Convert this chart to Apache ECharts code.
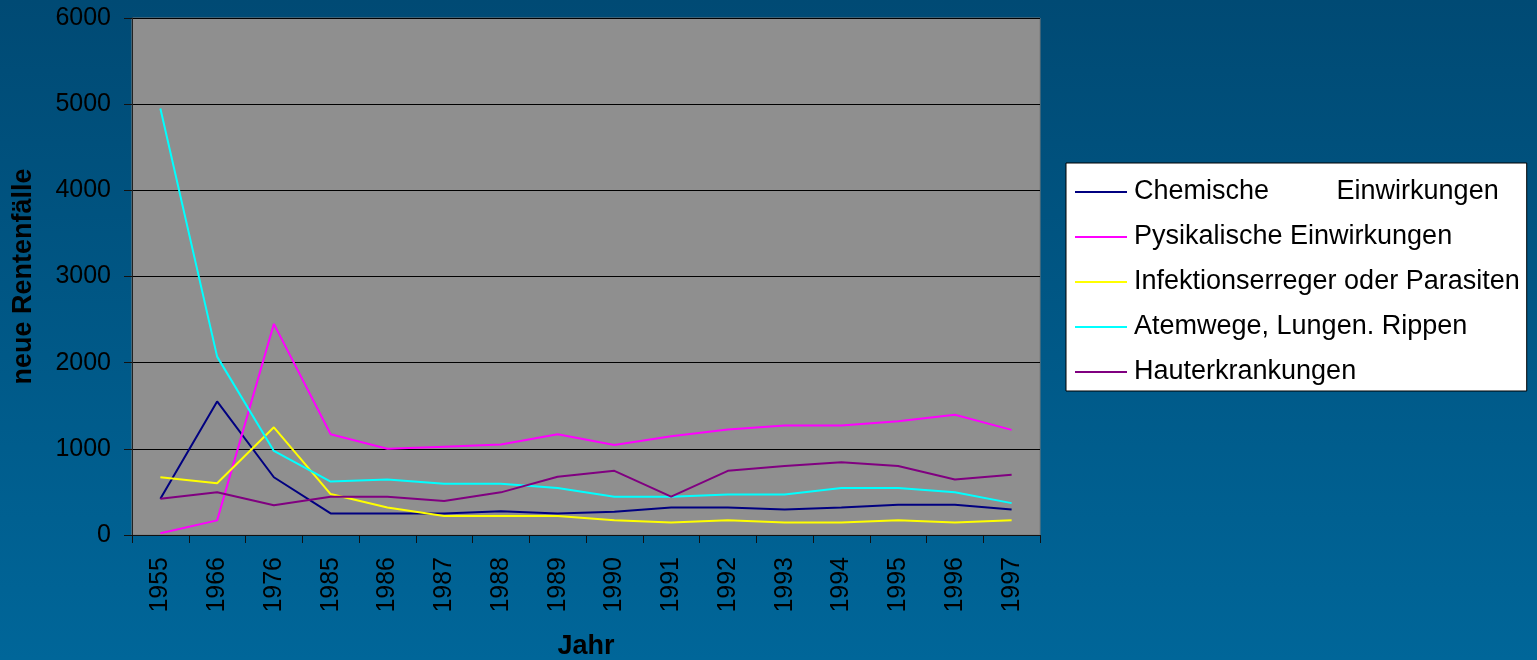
<!DOCTYPE html>
<html>
<head>
<meta charset="utf-8">
<script src="https://cdn.jsdelivr.net/npm/echarts@6/dist/echarts.min.js"></script>
<style>
  html, body { margin: 0; padding: 0; }
  #main { width: 1537px; height: 660px; }
</style>
</head>
<body>
<div id="main"></div>
<script>
// Jahre (Kategorien)
var jahre = ['1955','1966','1976','1985','1986','1987','1988','1989','1990','1991','1992','1993','1994','1995','1996','1997'];

// neue Rentenfälle je Gruppe
var chemische = [420, 1550, 670, 250, 250, 250, 275, 250, 270, 320, 320, 295, 320, 350, 350, 295];
var physikalische = [20, 170, 2450, 1170, 1000, 1025, 1050, 1170, 1045, 1145, 1225, 1270, 1270, 1320, 1395, 1220];
var infektion = [670, 600, 1250, 475, 320, 220, 220, 220, 170, 145, 170, 145, 145, 170, 145, 170];
var atemwege = [4950, 2070, 975, 620, 645, 595, 595, 545, 445, 445, 470, 470, 545, 545, 495, 370];
var haut = [420, 495, 345, 445, 445, 395, 495, 675, 745, 445, 745, 800, 845, 800, 645, 700];

var yTicks = [0, 1000, 2000, 3000, 4000, 5000, 6000];

var namen = ['Chemische         Einwirkungen', 'Pysikalische Einwirkungen', 'Infektionserreger oder Parasiten', 'Atemwege, Lungen. Rippen', 'Hauterkrankungen'];
var farben = ['#000080', '#ff00ff', '#ffff00', '#00ffff', '#800080'];
var reihen = [chemische, physikalische, infektion, atemwege, haut];

var myChart = echarts.init(document.getElementById('main'));

var series = reihen.map(function (d, i) {
    return {
        name: namen[i],
        type: 'line',
        data: d,
        symbol: 'none',
        lineStyle: { color: farben[i], width: 2 },
        itemStyle: { color: farben[i] },
        animation: false
    };
});

var option = {
    backgroundColor: new echarts.graphic.LinearGradient(0, 0, 0, 1, [
        { offset: 0, color: '#004a74' },
        { offset: 1, color: '#006699' }
    ]),
    textStyle: { fontFamily: 'Liberation Sans, Arial, sans-serif' },
    grid: {
        left: 132, top: 18, right: 497, bottom: 125,
        outerBoundsMode: 'none',
        containLabel: false,
        show: true,
        backgroundColor: '#8f8f8f',
        borderColor: '#7a7a7a',
        borderWidth: 1
    },
    legend: {
        orient: 'vertical',
        left: 1066,
        top: 163,
        backgroundColor: '#ffffff',
        borderColor: '#000000',
        borderWidth: 1,
        padding: [14, 7, 4, 9],
        itemWidth: 52,
        itemHeight: 14,
        itemGap: 15,
        icon: 'path://M0,6 L52,6 L52,8 L0,8 Z',
        textStyle: { color: '#000', fontSize: 27, lineHeight: 30, padding: [0, 0, 0, 2] },
        data: namen
    },
    xAxis: {
        type: 'category',
        data: jahre,
        boundaryGap: true,
        name: 'Jahr',
        nameLocation: 'middle',
        nameGap: 98,
        nameTextStyle: { color: '#000', fontSize: 27, fontWeight: 'bold' },
        axisLine: { lineStyle: { color: '#111', width: 1 } },
        axisTick: { show: true, length: 8, lineStyle: { color: '#111' } },
        axisLabel: { rotate: 90, color: '#000', fontSize: 25, margin: 22 },
        splitLine: { show: false }
    },
    yAxis: {
        type: 'value',
        min: 0,
        max: 6000,
        interval: 1000,
        name: 'neue Rentenfälle',
        nameLocation: 'middle',
        nameGap: 95,
        nameTextStyle: { color: '#000', fontSize: 27, fontWeight: 'bold' },
        axisLine: { show: true, lineStyle: { color: '#222', width: 1 } },
        axisTick: { show: true, length: 8, lineStyle: { color: '#111' } },
        axisLabel: {
            color: '#000', fontSize: 25, margin: 21,
            formatter: function (v) { return yTicks.indexOf(v) >= 0 ? String(v) : ''; }
        },
        splitLine: { show: true, lineStyle: { color: '#000', width: 1 } }
    },
    series: series
};

myChart.setOption(option);
</script>
</body>
</html>
